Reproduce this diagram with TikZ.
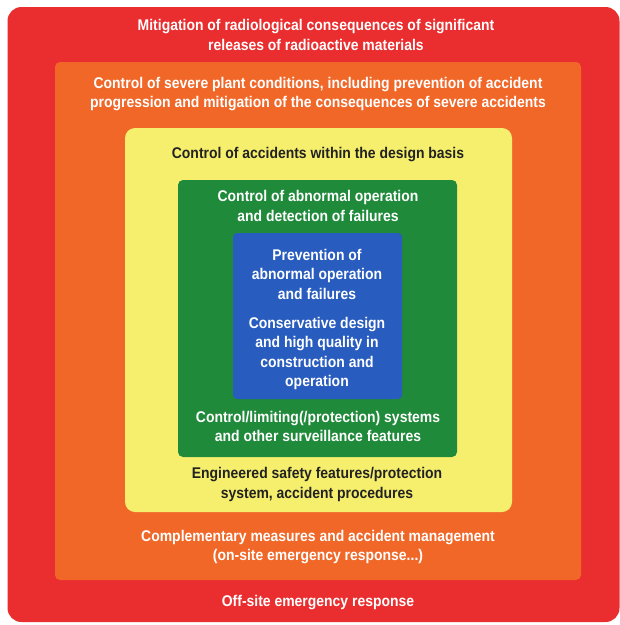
\documentclass[tikz,border=0pt]{standalone}
\usepackage{fontspec}
\newfontfamily\labfont[FakeStretch=0.9]{Liberation Sans}
\definecolor{redc}{RGB}{234,45,46}
\definecolor{orangec}{RGB}{240,103,40}
\definecolor{yellowc}{RGB}{246,239,110}
\definecolor{greenc}{RGB}{31,138,58}
\definecolor{bluec}{RGB}{40,92,190}
\definecolor{darktext}{RGB}{34,34,34}
\begin{document}
\begin{tikzpicture}[x=1pt,y=-1pt,
  layer/.style={draw=none, inner sep=0pt, rectangle},
  lab/.style={font=\labfont\bfseries\fontsize{15.5}{19.5}\selectfont, align=center, inner sep=0pt, text=white},
  darklab/.style={lab, text=darktext}]
\useasboundingbox (0,0) rectangle (620,625);
\fill[white] (0,0) rectangle (620,625);
\node[layer, fill=redc, rounded corners=14pt, minimum width=612pt, minimum height=615pt] (red) at (313.5,314.5) {};
\node[layer, fill=orangec, rounded corners=5pt, minimum width=526pt, minimum height=518pt] (orange) at (318,321) {};
\node[layer, fill=yellowc, rounded corners=10pt, minimum width=387pt, minimum height=384pt] (yellow) at (318.5,320) {};
\node[layer, fill=greenc, rounded corners=5pt, minimum width=279pt, minimum height=277pt] (green) at (317.5,318.5) {};
\node[layer, fill=bluec, rounded corners=4pt, minimum width=169pt, minimum height=166pt] (blue) at (317.5,316) {};

\node[lab] (t1) at (316,35) {Mitigation of radiological consequences of significant\\releases of radioactive materials};
\node[lab] (t2) at (318,94) {Control of severe plant conditions, including prevention of accident\\progression and mitigation of the consequences of severe accidents};
\node[darklab] (t3) at (318,155) {Control of accidents within the design basis};
\node[lab] (t4) at (318,206) {Control of abnormal operation\\and detection of failures};
\node[lab] (t5) at (317,274) {Prevention of\\abnormal operation\\and failures};
\node[lab] (t6) at (317,353.5) {Conservative design\\and high quality in\\construction and\\operation};
\node[lab] (t7) at (318,426.5) {Control/limiting(/protection) systems\\and other surveillance features};
\node[darklab] (t8) at (317,484.5) {Engineered safety features/protection\\system, accident procedures};
\node[lab] (t9) at (318,547) {Complementary measures and accident management\\(on-site emergency response...)};
\node[lab] (t10) at (318,603) {Off-site emergency response};
\end{tikzpicture}
\end{document}
